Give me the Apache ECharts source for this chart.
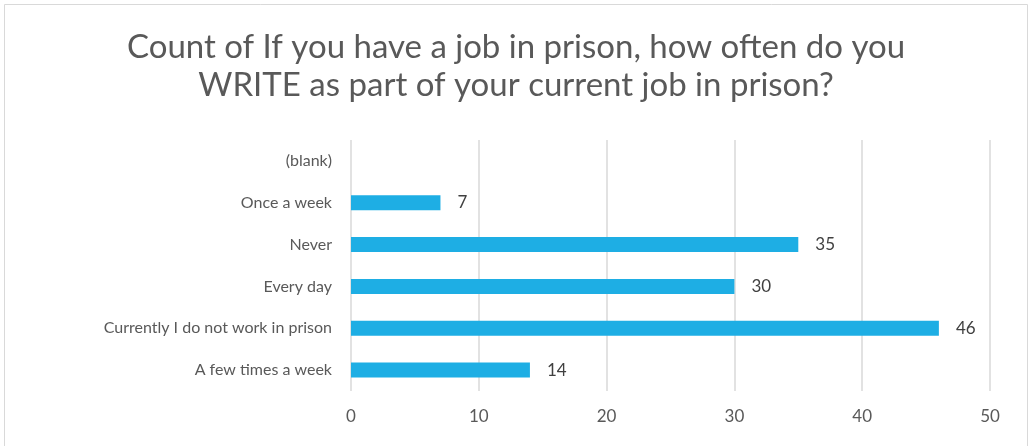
<!DOCTYPE html>
<html><head><meta charset="utf-8">
<script src="https://cdn.jsdelivr.net/npm/echarts@6/dist/echarts.min.js"></script>
<style>html,body{margin:0;padding:0;background:#fff}#c{width:1032px;height:446px}</style>
</head><body><div id="c"></div>
<script>
const categories = ["A few times a week", "Currently I do not work in prison", "Every day", "Never", "Once a week", "(blank)"];
const values = [14, 46, 30, 35, 7, null];
const xTicks = [0, 10, 20, 30, 40, 50];
const titleText = "Count of If you have a job in prison, how often do you\nWRITE as part of your current job in prison?";

const chart = echarts.init(document.getElementById('c'));
chart.setOption({
  animation: false,
  graphic: [{type:'rect', shape:{x:4.5,y:4.5,width:1023,height:450}, style:{fill:'none', stroke:'#d9d9d9', lineWidth:1}, z:-1}],
  title: {
    text: titleText, left: 'center', top: 23,
    textStyle: {fontFamily: 'Lato', fontWeight: 'normal', fontSize: 33, color: '#595959', lineHeight: 38}
  },
  grid: {left: 351, right: 42, top: 140, bottom: 55, containLabel: false},
  xAxis: {
    type: 'value', min: xTicks[0], max: xTicks[xTicks.length-1], interval: 10,
    axisLine: {show: false}, axisTick: {show: false},
    splitLine: {lineStyle: {color: '#d9d9d9', width: 1.5}},
    axisLabel: {color: '#595959', fontSize: 17, fontFamily: 'Lato', margin: 17}
  },
  yAxis: {
    type: 'category', data: categories,
    axisLine: {show: false}, axisTick: {show: false},
    axisLabel: {color: '#595959', fontSize: 16, fontFamily: 'Lato', margin: 19}
  },
  series: [{
    type: 'bar', data: values, barWidth: 15,
    itemStyle: {color: '#1eaee4'},
    label: {show: true, position: 'right', distance: 17, color: '#404040', fontSize: 17, fontFamily: 'Lato'}
  }]
});
</script></body></html>
